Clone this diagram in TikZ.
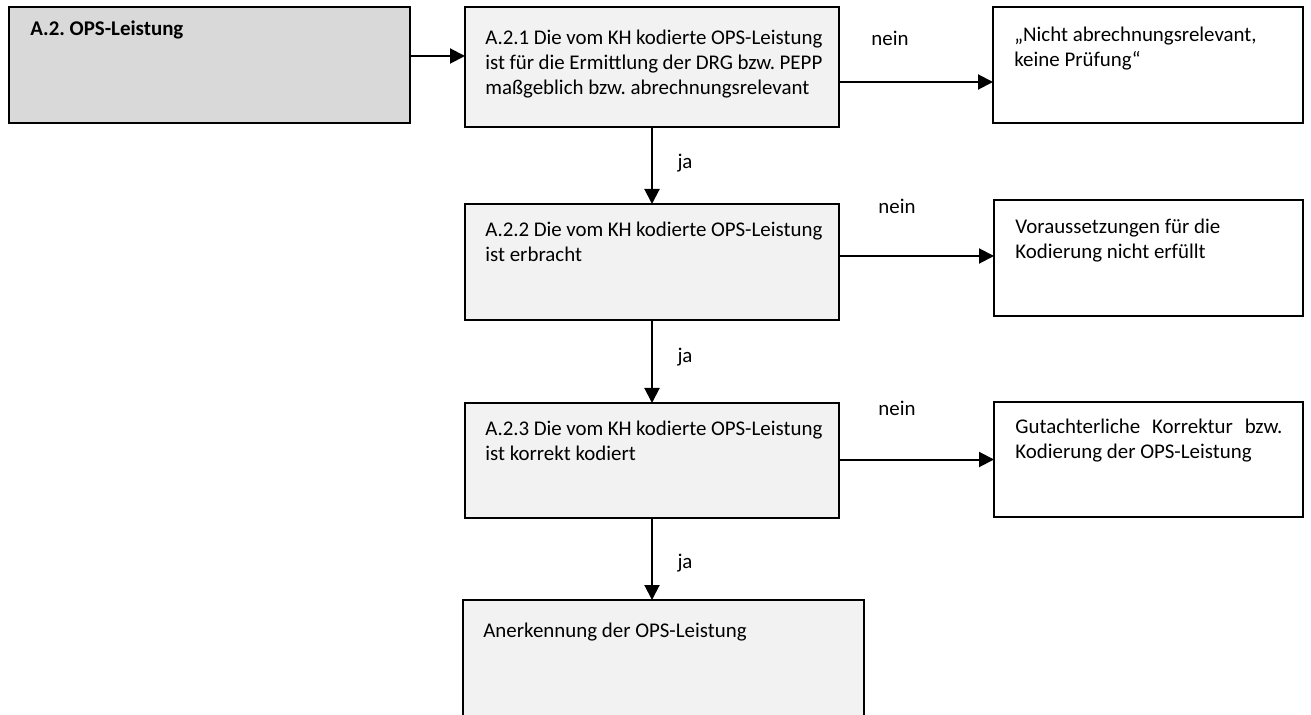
\documentclass[tikz,border=0pt]{standalone}
\usepackage{fontspec}
\setmainfont{Carlito}
\usetikzlibrary{arrows.meta,positioning}
\definecolor{kopfgrau}{RGB}{217,217,217}
\definecolor{pruefgrau}{RGB}{242,242,242}
\frenchspacing
\tikzset{
  kasten/.style={draw,line width=1.1pt,anchor=north west,inner sep=0pt,outer sep=0pt},
  inhalt/.style={anchor=north west,inner sep=0pt,align=justify,
    font=\fontsize{11.5}{13.75}\selectfont},
  pfeil/.style={->,line width=1.1pt},
  marke/.style={font=\fontsize{11.5}{13.75}\selectfont,inner sep=0pt}
}
\begin{document}
\begin{tikzpicture}[x=0.55pt,y=-0.55pt,>={Triangle[length=8.25pt,width=8.25pt]}]
  \useasboundingbox (0,0) rectangle (1311,715);
  \fill[white] (0,0) rectangle (1311,715);
  \clip (0,0) rectangle (1311,715);
  % Kopf
  \node[kasten,fill=kopfgrau,minimum width=401*0.55pt,minimum height=116*0.55pt,
    label={[inhalt,text width=203.5pt,xshift=21*0.55pt,yshift=-13*0.55pt]north west:{\textbf{A.2. OPS-Leistung}}}] (ops) at (9,7) {};
  % Pruefschritte
  \node[kasten,fill=pruefgrau,minimum width=374*0.55pt,minimum height=120*0.55pt,
    label={[inhalt,text width=185.35pt,xshift=20*0.55pt,yshift=-23*0.55pt]north west:{A.2.1 Die vom KH kodierte OPS-Leistung\linebreak ist für die Ermittlung der DRG bzw. PEPP\linebreak maßgeblich bzw. abrechnungsrelevant}}] (pruef1) at (465,7) {};
  \node[kasten,fill=pruefgrau,minimum width=374*0.55pt,minimum height=116*0.55pt,
    label={[inhalt,text width=185.35pt,xshift=20*0.55pt,yshift=-18*0.55pt]north west:{A.2.2 Die vom KH kodierte OPS-Leistung\linebreak ist erbracht}}] (pruef2) at (465,204) {};
  \node[kasten,fill=pruefgrau,minimum width=374*0.55pt,minimum height=115*0.55pt,
    label={[inhalt,text width=185.35pt,xshift=20*0.55pt,yshift=-18*0.55pt]north west:{A.2.3 Die vom KH kodierte OPS-Leistung\linebreak ist korrekt kodiert}}] (pruef3) at (465,403) {};
  \node[kasten,fill=pruefgrau,minimum width=401*0.55pt,minimum height=130*0.55pt,
    label={[inhalt,text width=198pt,xshift=20*0.55pt,yshift=-23*0.55pt]north west:{Anerkennung der OPS-Leistung}}] (anerk) at (463,600) {};
  % Ergebnisse
  \node[kasten,minimum width=310*0.55pt,minimum height=116*0.55pt,
    label={[inhalt,text width=147.4pt,xshift=21*0.55pt,yshift=-20*0.55pt]north west:{„Nicht abrechnungsrelevant,\\keine Prüfung“}}] (erg1) at (993,7) {};
  \node[kasten,minimum width=309*0.55pt,minimum height=116*0.55pt,
    label={[inhalt,text width=147.4pt,xshift=21*0.55pt,yshift=-19*0.55pt]north west:{Voraussetzungen für die\\Kodierung nicht erfüllt}}] (erg2) at (994,200) {};
  \node[kasten,minimum width=309*0.55pt,minimum height=115*0.55pt,
    label={[inhalt,text width=146.85pt,xshift=21*0.55pt,yshift=-17*0.55pt]north west:{Gutachterliche Korrektur bzw.\linebreak Kodierung der OPS-Leistung}}] (erg3) at (994,402) {};
  % Pfeile
  \draw[pfeil] ([yshift=9*0.55pt]ops.east) -- ([yshift=9*0.55pt]ops.east -| pruef1.west);
  \draw[pfeil] ([yshift=-15*0.55pt]pruef1.east) -- ([yshift=-15*0.55pt]pruef1.east -| erg1.west);
  \draw[pfeil] ([yshift=6*0.55pt]pruef2.east) -- ([yshift=6*0.55pt]pruef2.east -| erg2.west);
  \draw[pfeil] ([yshift=1*0.55pt]pruef3.east) -- ([yshift=1*0.55pt]pruef3.east -| erg3.west);
  \draw[pfeil] (pruef1.south) -- (pruef2.north);
  \draw[pfeil] (pruef2.south) -- (pruef3.north);
  \draw[pfeil] (pruef3.south) -- (pruef3.south |- anerk.north);
  % Beschriftungen
  \node[marke] (nein1) at (890,38) {nein};
  \node[marke] (nein2) at (897,206) {nein};
  \node[marke] (nein3) at (897,408) {nein};
  \node[marke] (ja1) at (685,163) {ja};
  \node[marke] (ja2) at (685,357) {ja};
  \node[marke] (ja3) at (685,563) {ja};
\end{tikzpicture}
\end{document}
